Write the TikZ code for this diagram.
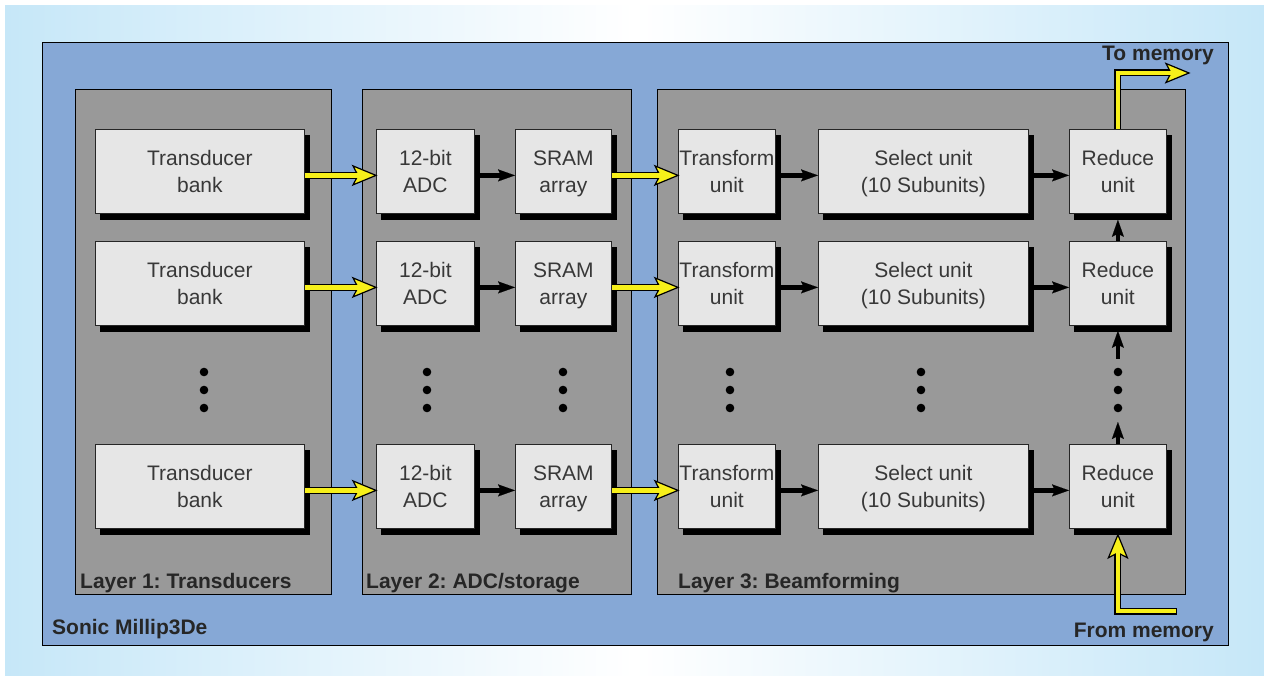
\documentclass[tikz,border=0pt]{standalone}
\usepackage{fontspec}
\setmainfont{Liberation Sans}
\usetikzlibrary{arrows.meta,calc}
\definecolor{bgE}{HTML}{C6E7F8}
\definecolor{panel}{HTML}{86A8D6}
\definecolor{layer}{HTML}{999999}
\definecolor{boxfill}{HTML}{E6E6E6}
\definecolor{txt}{HTML}{383838}
\definecolor{lbltxt}{HTML}{262626}
\definecolor{ylw}{HTML}{F7F01A}
\pgfdeclarelayer{back}
\pgfdeclarelayer{shad}
\pgfsetlayers{back,shad,main}
\frenchspacing
\newcommand\twolines[2]{\rule{0pt}{15pt}#1\\\smash{#2}}
\tikzset{
  yhead/.pic={\draw[fill=ylw, line width=1.2pt, line join=miter] (0,0) -- (-23,-9.5) -- (-18,0) -- (-23,9.5) -- cycle;}
}
\begin{document}
\begin{tikzpicture}[x=1pt,y=-1pt,
  unitbox/.style={draw=black!85, line width=0.8pt, fill=boxfill, minimum height=84pt, align=center,
    font=\fontsize{21}{26.5}\selectfont, text=txt, inner sep=0pt, anchor=north west},
  layerbox/.style={draw=black, line width=0.8pt, fill=layer},
  lbl/.style={font=\bfseries\fontsize{21}{24}\selectfont, text=lbltxt, inner sep=0pt},
  barrow/.style={line width=4.5pt, -{Stealth[length=17pt, width=12pt, inset=3pt, line width=0.1pt]}},
  yout/.style={line width=7pt, draw=black, line join=miter},
  yin/.style={line width=4.4pt, draw=ylw, line join=miter}
]
\useasboundingbox (0,0) rectangle (1264,676);
\begin{pgfonlayer}{back}
\fill[white] (0,0) rectangle (1264,676);
\shade[left color=bgE, right color=bgE, middle color=white] (5,6) rectangle (1264,676);
% main panel
\draw[fill=panel, line width=0.8pt] (42,42) rectangle (1228,645);
% layers
\draw[layerbox] (75,89) rectangle (331,594);
\draw[layerbox] (362,89) rectangle (631,594);
\draw[layerbox] (657,89) rectangle (1185,594);
\end{pgfonlayer}
% units
\foreach \r/\y in {1/129,2/241,3/444}{
  \node[unitbox, minimum width=209pt] (t\r) at (95,\y) {\twolines{Transducer}{bank}};
  \node[unitbox, minimum width=98pt] (a\r) at (376,\y) {\twolines{12-bit}{ADC}};
  \node[unitbox, minimum width=96pt] (s\r) at (515,\y) {\twolines{SRAM}{array}};
  \node[unitbox, minimum width=97pt] (f\r) at (678,\y) {\twolines{Transform}{unit}};
  \node[unitbox, minimum width=210pt] (c\r) at (818,\y) {\twolines{Select unit}{(10 Subunits)}};
  \node[unitbox, minimum width=97pt] (r\r) at (1069,\y) {\twolines{Reduce}{unit}};
}
% shadows
\begin{pgfonlayer}{shad}
\foreach \r in {1,2,3}{
  \foreach \n in {t,a,s,f,c,r}{
    \fill[black] ($(\n\r.north west)+(5,6)$) rectangle ($(\n\r.south east)+(5,6)$);
  }
}
\end{pgfonlayer}
% horizontal connectors
\foreach \r in {1,2,3}{
  \draw[yout] ($(t\r.east)+(0,4)$) -- ($(a\r.west)+(-17,4)$);
  \pic at ($(a\r.west)+(0,4)$) {yhead};
  \draw[yin] ($(t\r.east)+(0,4)$) -- ($(a\r.west)+(-16,4)$);
  \draw[yout] ($(s\r.east)+(0,4)$) -- ($(f\r.west)+(-17,4)$);
  \pic at ($(f\r.west)+(0,4)$) {yhead};
  \draw[yin] ($(s\r.east)+(0,4)$) -- ($(f\r.west)+(-16,4)$);
  \draw[barrow] ($(a\r.east)+(0,4)$) -- ($(s\r.west)+(0,4)$);
  \draw[barrow] ($(f\r.east)+(0,4)$) -- ($(c\r.west)+(0,4)$);
  \draw[barrow] ($(c\r.east)+(0,4)$) -- ($(r\r.west)+(0,4)$);
}
% vertical reduce chain
\draw[barrow] (r2.north) -- ($(r1.south)+(0,6)$);
\draw[barrow] ($(r2.south)+(0,33)$) -- ($(r2.south)+(0,5)$);
\draw[barrow] (r3.north) -- ($(r3.north)+(0,-22)$);
% ellipsis dots
\foreach \x in {204,427,563,730,921,1118}{
  \foreach \y in {372,390,408}{
    \fill (\x,\y) circle (4.3);
  }
}
% memory arrows
\coordinate (tomem) at (1189,73);
\draw[yout] (r1.north) |- ($(tomem)+(-17,0)$);
\pic at (tomem) {yhead};
\draw[yin] (r1.north) |- ($(tomem)+(-16,0)$);
\coordinate (frommem) at (1177,611);
\draw[yout] (frommem) -| ($(r3.south)+(0,23)$);
\pic[rotate=90] at ($(r3.south)+(0,6)$) {yhead};
\draw[yin] ($(frommem)+(-1.4,0)$) -| ($(r3.south)+(0,22)$);
% labels
\node[lbl, anchor=base west] (l1) at (80,588) {Layer 1: Transducers};
\node[lbl, anchor=base west] (l2) at (366,588) {Layer 2: ADC/storage};
\node[lbl, anchor=base west] (l3) at (678,588) {Layer 3: Beamforming};
\node[lbl, anchor=base west] (sm) at (52,634) {Sonic Millip3De};
\node[lbl, anchor=base east] (tm) at (1214,61) {To memory};
\node[lbl, anchor=base east] (fm) at (1214,637) {From memory};
\end{tikzpicture}
\end{document}
